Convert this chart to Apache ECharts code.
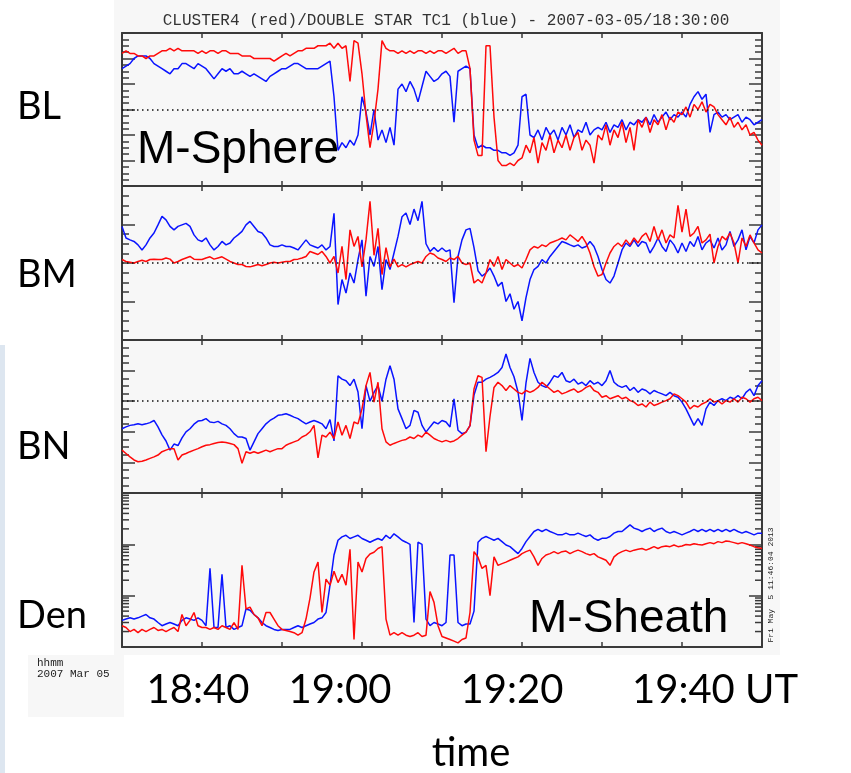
<!DOCTYPE html>
<html>
<head>
<meta charset="utf-8">
<title>CLUSTER4 (red)/DOUBLE STAR TC1 (blue) - 2007-03-05/18:30:00</title>
<script src="https://cdn.jsdelivr.net/npm/echarts@6.0.0/dist/echarts.min.js"></script>
<style>
    html, body { margin: 0; padding: 0; background: #fff; }
    #chart { width: 851px; height: 773px; }
</style>
</head>
<body>
<div id="chart"></div>
<script>
// sample grid: minutes after 18:30 UT, one point every 30 s (18:30 .. 19:50)
const times = [];
for (let i = 0; i <= 160; i++) times.push(i / 2);

const timeLabels = ['18:40', '19:00', '19:20', '19:40 UT'];
const panelNames = ['BL', 'BM', 'BN', 'Den'];

// log-axis minor ticks of the density panel
const denMinorTicks = [0.2, 0.3, 0.4, 0.5, 0.6, 0.7, 0.8, 0.9, 2, 3, 4, 5, 6, 7, 8, 9, 20, 30, 40, 50, 60, 70, 80, 90];

// BL [nT]
const redBL = [
    22,23,22,22,21,21,20,21,21,22,  23,23,24,23,24,23,23,23,23,22,
    23,22,23,23,22,23,23,22,22,22,  21,21,21,20,20,20,20,20,19,20,
    21,22,21,22,23,23,24,24,24,25,  25,25,26,24,26,24,25,11,27,26,
    14,-2,-15,-5,8,27,24,23,23,22,  23,22,23,22,23,23,22,23,22,23,
    23,22,23,24,22,23,23,16,-12,-18, -18,25,25,-3,-20,-22,-22,-21,-22,-20,
    -19,-14,-17,-11,-21,-13,-16,-10,-17,-12,  -15,-10,-16,-11,-9,-16,-12,-14,-21,-10,
    -12,-6,-14,-8,-11,-5,-13,-7,-16,-4,  -7,-3,-9,-4,-6,-2,-8,-3,-5,-1,
    -2,1,-3,2,0,3,-1,2,1,-2,  -4,-6,-3,-7,-5,-8,-6,-10,-9,-12,-14
];
const blueBL = [
    16,17,18,20,21,21,21,20,18,17,  16,15,14,16,16,18,18,17,16,18,
    17,16,14,12,14,16,15,16,14,14,  15,14,13,14,13,12,11,13,14,15,
    16,16,17,18,18,17,16,16,16,16,  17,18,19,5,-16,-13,-15,-12,-14,-10,
    5,-1,-10,0,-12,-8,-13,-7,-14,8,  10,7,11,8,3,9,15,13,11,12,
    14,15,13,-5,15,16,17,16,-10,-15,  -14,-15,-15,-16,-16,-17,-17,-18,-17,-14,
    5,6,-10,-11,-8,-12,-7,-10,-8,-12,  -7,-10,-6,-11,-8,-9,-5,-10,-8,-7,
    -8,-5,-9,-6,-7,-4,-8,-5,-6,-4,  -5,-3,-6,-2,-5,-3,-1,-4,-2,-3,
    -1,-3,2,5,7,4,6,-9,-2,-1,  -3,-2,-4,-3,-2,-5,-3,-4,-6,-5,-4
];

// BM [nT]
const redBM = [
    0.9,0.4,0.2,0,0.4,0.7,0.4,0.9,1,0.9,  0.9,1.3,1,0,0.4,0.9,1.3,1.7,1,0.9,
    0.9,1.3,1.6,1,1.3,1.6,1,0.4,0,-0.4,  -0.4,-0.9,-1,-0.7,-0.4,-0.7,-0.4,0,0.2,0,
    0.2,0.4,0.4,0.9,1,1.3,1.7,3,2.6,2.2,  3,1.7,0,1.7,-2.6,4.3,-4.3,8.6,4.3,6.9,
    -1,6,16,2,9,-3,4,-1,1,-1,  -0.4,-1,-0.4,0,0.4,0,1.7,2.6,2.2,1.3,
    0.9,0.4,1.3,0.9,1.7,0,-0.4,0,-5.2,-4.3,  -5.2,-2.6,0.9,-0.9,1.7,-1.7,0.9,0,-0.9,-0.4,
    -1.3,0.9,3.4,4.3,3.9,4.7,4.3,5.2,5.6,6,  6.5,6,7.3,6.5,5.6,6.9,5.2,2.6,-0.9,-3.4,
    -3,0,2.6,4.3,5.2,4.3,6,4.7,6.5,5.2,  6.9,7.8,5.6,9.5,6,8.6,5.2,7.3,6.5,15,
    8,14,6.9,7.8,9.5,5.2,6,7.5,0,4.3,  6.9,6,7.8,5.2,0,6.5,4.3,7.3,5.2,3.4,2.6
];
const blueBM = [
    9.5,6.5,6,5.6,4.7,3.4,4.7,6.5,7.8,9.9,  12.1,11.2,9.5,8.6,9.5,9.9,10.3,9.5,7.3,6,
    5.6,6.5,4.7,3.4,4.3,5.6,4.7,5.2,6.5,7.3,  8.2,9.9,10.8,9.5,8.2,7.8,6.5,4.7,4.3,4.3,
    4.7,4.3,4.3,3.9,3.4,4.7,6,4.7,4.3,3.9,  4.7,3.4,4.3,12.9,-10.8,-4.3,-7.8,-2.6,-5.2,0.9,
    6,-8.6,1.7,-0.9,4.3,-6.9,0.9,-1.7,2.6,6.9,  12,13,10,14,11,16,5,3,4,3,
    3.9,3,3.4,-10.3,1.7,6,8.6,9,4,-2,  -3.4,-2.6,-1.3,-3.4,-6,-5,-10,-8,-12,-10,
    -15,-9,-4.3,-1.7,-0.9,0.9,0,1.7,3,4.3,  5.6,5.2,4.7,4.3,4.7,3.9,4.3,5.6,4.3,1.7,
    -1.7,-4.3,-5.2,-3.4,0,3.4,5.2,4.3,6,4.3,  5.6,5.2,2.6,4.3,6.5,4.3,3,6,4.7,2.6,
    5.2,3,5.6,4.3,6.9,3.4,5.2,6,3.9,6.5,  3.4,4.7,8.2,4.3,6,8.6,3.4,6.9,5.2,8.6,9.9
];

// BN [nT]
const redBN = [
    -16,-17.1,-18.2,-19.2,-19.8,-19.6,-19.2,-18.7,-18.2,-17.6,  -16.5,-16,-15.5,-15.5,-19.2,-17.6,-17.1,-16.5,-16,-15.5,
    -14.9,-14.4,-14.2,-13.8,-13.5,-13.3,-13.5,-13.8,-14.2,-15.5,  -20.3,-16.5,-17,-16.5,-17,-16.5,-16,-16.5,-16,-15.5,
    -15.5,-14.4,-13.8,-13.3,-12.8,-11.7,-11.1,-10,-7.9,-18.5,  -11.1,-11.7,-10.1,-12.2,-6.8,-11.1,-7.9,-12.2,-6.8,-7.4,
    -2.5,5.1,9.4,-0.3,6.2,-9,-13.3,-14.4,-13.8,-13.3,  -12.8,-12.5,-11.7,-12.2,-11.1,-11.7,-10.1,-11.1,-12.2,-12.8,
    -13.3,-12.8,-13.3,-13,-12.2,-11.1,-10.1,-8,4,8.3,  7.8,-16.5,-5,4.5,6.2,5.1,3.5,5.1,4,2.9,
    2.4,3.5,2.9,3.5,4.5,6.2,5.1,4,2.9,3.5,  2.4,2.9,3.5,4,2.9,3.5,4.5,5.1,3.5,2.9,
    1.3,1.8,0.8,1.3,1.8,0.8,1.3,0.2,-0.3,-1.4,  -0.9,-1.9,-0.3,-1.4,-0.9,-0.3,0.2,0.8,2.4,1.8,
    0.8,-0.3,-2.5,-1.4,-1.9,-0.9,-0.3,0.8,-0.3,0.2,  -0.9,0.2,-0.3,0.8,-0.3,1.3,0.8,-0.3,0.8,1.3,0.2
];
const blueBN = [
    -9,-8.4,-7.9,-7.7,-7.4,-7.7,-7.4,-7,-6.3,-8.4,  -11,-13,-16,-14,-14.5,-12,-10,-9,-7.5,-6.5,
    -6.3,-5.7,-6.8,-7,-6.6,-7.4,-7.9,-9,-10.6,-11.7,  -11.7,-12.2,-16,-13.3,-10.6,-9,-7.4,-6.3,-5.5,-4.6,
    -4.4,-4.1,-4.6,-5.2,-5.7,-6.6,-7.4,-6.8,-6.3,-6.8,  -7.4,-9,-6,-13,8.3,7.2,6.7,5.1,7.2,3,
    -9,5.1,0,2.9,5.1,0,7.2,11.6,7.2,-2.5,  -5.7,-9,-7.9,-3,-3.6,-7.9,-10.1,-8.4,-6.8,-7.4,
    -6.3,-6.8,-8.4,0.8,-9.5,-10.6,-10.1,-8,2,6.2,  6.2,7.2,7.8,8.5,9.4,11,15.4,11,8,3,
    -6.3,6,14,9.4,6.2,5.1,4.5,6.2,8.3,7.8,  9.4,6.7,6.2,7.2,5.6,6.2,5.1,6.7,5.6,6.2,
    5.1,6.7,10,6.2,5.1,4.5,5.1,3.5,4.5,2.9,  4,3.5,2.4,3.5,2.9,2.4,1.8,2.9,1.8,1.3,
    -0.3,-2.5,-5.2,-7.9,-5.7,-7.9,-2.5,-0.3,-1.4,0.2,  0.8,0.2,1.3,0.8,1.8,0.8,2.9,4,1.8,5.1,6.7
];

// density [cm^-3], log axis
const redDen = [
    .26,.24,.2,.22,.19,.22,.2,.22,.24,.21,  .22,.2,.22,.24,.2,.43,.26,.33,.47,.26,
    .24,.24,.22,.24,.22,.26,.24,.22,.3,.22,  3.9,.55,.6,.43,.37,.26,.47,.47,.35,.26,
    .22,.21,.2,.19,.17,.19,.35,.9,2.9,4.5,  .47,2.1,1.6,3,1.8,2.6,1.6,8,.14,4.5,
    2.9,5.3,6.5,7,8.3,9,.35,.17,.19,.17,  .19,.17,.16,.17,.19,.16,.17,1.2,.74,.26,
    .16,.15,.14,.13,.12,.14,.15,.47,7.2,5.6,  3.4,3.9,1.0,5.7,3.9,4.2,4.5,4.9,5.3,5.7,
    6.6,7.2,7.7,5.7,3.9,5.3,6.2,6.6,7.2,6.6,  7.2,7.4,6.6,7.2,7.7,7.2,6.6,6.2,6.6,5.7,
    5.3,4.9,3.9,5.7,6.6,7.2,7.7,7.2,7.7,8,  8.3,7.7,8.3,9,8.3,9,9.3,9,9.7,9,
    9.3,9.9,9.7,10.3,9.9,9.7,10.3,10.8,10.3,11.3,  10.8,11.6,11.3,10.8,10.3,10.8,10.3,9.7,9,8.6,8.3
];
const blueDen = [
    .33,.35,.37,.35,.37,.40,.43,.37,.35,.30,  .26,.28,.30,.28,.26,.33,.37,.35,.33,.37,
    .33,.26,3.4,.24,.24,2.6,.24,.26,.22,.24,  .26,.55,.52,.43,.37,.30,.26,.24,.22,.21,
    .22,.22,.22,.24,.26,.24,.26,.28,.30,.35,  .37,.47,1.6,6.2,12,14,15,13,14,15,
    13,12,11,12,13,12,15,13,16,14,  12,11,10,.30,11,10,.35,.26,.30,.28,
    .26,.30,6.2,6.2,.30,.26,.28,.28,.5,11,  13.1,14.2,13.1,12,13.1,11.3,9.7,9,7.7,6.6,
    8.3,11.3,14.2,17.8,19.5,17.8,19.5,17.8,16.5,15.3,  15.3,16.5,15.3,15.3,16.5,15.3,14.2,15.3,13.1,12,
    13.1,13.1,14.2,16.5,17.8,17.8,20.7,24,20.7,19.5,  17.8,19.5,20.7,17.8,19.5,20.7,17.8,16.5,17.8,16.5,
    15.3,16.5,17.8,19.5,17.8,19.5,17.8,19.5,17.8,19.5,  17.8,19.5,17.8,19.5,17.8,16.5,17.8,16.5,15.3,16.5,16.5
];

const panels = [
    { red: redBL, blue: blueBL, min: -30, max: 30, interval: 10, zero: true },
    { red: redBM, blue: blueBM, min: -20, max: 20, interval: 10, zero: true },
    { red: redBN, blue: blueBN, min: -30, max: 20, interval: 10, zero: true },
    { red: redDen, blue: blueDen, min: 0.1, max: 100, log: true, zero: false }
];

const gridTops = [33, 186, 340, 493];
const gridHeights = [153, 154, 153, 154];
const frameColor = '#3a3a3a';
const bgGray = '#f7f7f7';

const grids = [], xAxes = [], yAxes = [], series = [];

panels.forEach((p, i) => {
    grids.push({ left: 122, right: 89, top: gridTops[i], height: gridHeights[i] });

    ['bottom', 'top'].forEach(pos => {
        xAxes.push({
            type: 'value', gridIndex: i, position: pos, min: 0, max: 80, interval: 10,
            axisLine: { show: true, onZero: false, lineStyle: { color: frameColor, width: 2 } },
            axisTick: { show: true, inside: true, length: 5, lineStyle: { color: frameColor, width: 1.5 } },
            axisLabel: { show: false },
            splitLine: { show: false }
        });
    });

    ['left', 'right'].forEach(pos => {
        const ax = {
            type: p.log ? 'log' : 'value', gridIndex: i, position: pos,
            min: p.min, max: p.max,
            axisLine: { show: true, onZero: false, lineStyle: { color: frameColor, width: 2 } },
            axisTick: { show: true, inside: true, length: 13, lineStyle: { color: frameColor, width: 1.5 } },
            minorTick: { show: !p.log, splitNumber: 4, length: 7, lineStyle: { color: frameColor, width: 1.5 } },
            axisLabel: { show: false },
            splitLine: { show: false }
        };
        if (p.log) { ax.logBase = 10; } else { ax.interval = p.interval; }
        yAxes.push(ax);
    });

    series.push({
        type: 'line', xAxisIndex: 2 * i, yAxisIndex: 2 * i,
        data: times.map((t, k) => [t, p.blue[k]]),
        symbol: 'none', lineStyle: { color: '#0a14ff', width: 1.5 },
        markLine: p.zero ? {
            silent: true, symbol: ['none', 'none'], label: { show: false },
            lineStyle: { color: '#111', type: [1.5, 3.5], width: 1.5 },
            data: [{ yAxis: 0 }]
        } : undefined
    });
    series.push({
        type: 'line', xAxisIndex: 2 * i, yAxisIndex: 2 * i,
        data: times.map((t, k) => [t, p.red[k]]),
        symbol: 'none', lineStyle: { color: '#ff0a0a', width: 1.5 }
    });
});

// logarithmic minor ticks on both sides of the density panel
series.push({
    type: 'custom', xAxisIndex: 6, yAxisIndex: 6, silent: true, clip: false,
    data: denMinorTicks.map(v => [0, v]),
    renderItem: (params, api) => {
        const v = api.value(1);
        const l = api.coord([0, v]);
        const r = api.coord([80, v]);
        const st = { stroke: frameColor, lineWidth: 1.5 };
        return {
            type: 'group',
            children: [
                { type: 'line', shape: { x1: l[0], y1: l[1], x2: l[0] + 7, y2: l[1] }, style: st },
                { type: 'line', shape: { x1: r[0] - 7, y1: r[1], x2: r[0], y2: r[1] }, style: st }
            ]
        };
    }
});

const labelFont = 'Lato, "Open Sans", sans-serif';
const panelLabelY = [107, 275, 447, 616];

const graphic = [
    { type: 'rect', z: -10, shape: { x: 114, y: 0, width: 666, height: 655 }, style: { fill: bgGray } },
    { type: 'rect', z: -10, shape: { x: 0, y: 345, width: 5, height: 428 }, style: { fill: '#dde6f0' } },
    { type: 'rect', z: 50, shape: { x: 28, y: 655, width: 96, height: 62 }, style: { fill: bgGray } },
    { type: 'rect', z: 50, shape: { x: 124, y: 655, width: 706, height: 62 }, style: { fill: '#fff' } },
    { type: 'text', z: 100, left: 37, top: 658, style: { text: 'hhmm\n2007 Mar 05', font: '11px "Liberation Mono", monospace', fill: '#222', lineHeight: 11 } },
    { type: 'text', z: 100, x: 771, y: 585, rotation: Math.PI / 2,
      style: { text: 'Fri May  5 11:46:04 2013', font: '8px "Liberation Mono", monospace', fill: '#222', align: 'center', verticalAlign: 'middle' } },
    { type: 'text', z: 100, x: 137, y: 150, style: { text: 'M-Sphere', font: '46px "Liberation Sans", Arial, sans-serif', fill: '#000', verticalAlign: 'middle' } },
    { type: 'text', z: 100, x: 529, y: 619, style: { text: 'M-Sheath', font: '46px "Liberation Sans", Arial, sans-serif', fill: '#000', verticalAlign: 'middle' } },
    { type: 'text', z: 100, x: 471, y: 753, style: { text: 'time', font: '40px ' + labelFont, fill: '#000', align: 'center', verticalAlign: 'middle' } }
];

panelNames.forEach((name, i) => {
    graphic.push({ type: 'text', z: 100, x: 17, y: panelLabelY[i],
        style: { text: name, font: '38px ' + labelFont, fill: '#000', verticalAlign: 'middle' } });
});

const timeLabelX = [198, 340, 512, 632];
timeLabels.forEach((s, i) => {
    graphic.push({ type: 'text', z: 100, x: timeLabelX[i], y: 690,
        style: { text: s, font: '40px ' + labelFont, fill: '#000', align: i === 3 ? 'left' : 'center', verticalAlign: 'middle' } });
});

const chart = echarts.init(document.getElementById('chart'), null, { renderer: 'canvas' });
chart.setOption({
    animation: false,
    backgroundColor: '#fff',
    title: {
        text: 'CLUSTER4 (red)/DOUBLE STAR TC1 (blue) - 2007-03-05/18:30:00',
        left: 441, top: 8, textAlign: 'center',
        textStyle: { fontFamily: '"Liberation Mono", monospace', fontSize: 16, fontWeight: 'normal', color: '#333' }
    },
    grid: grids,
    xAxis: xAxes,
    yAxis: yAxes,
    series: series,
    graphic: graphic
});
</script>
</body>
</html>
